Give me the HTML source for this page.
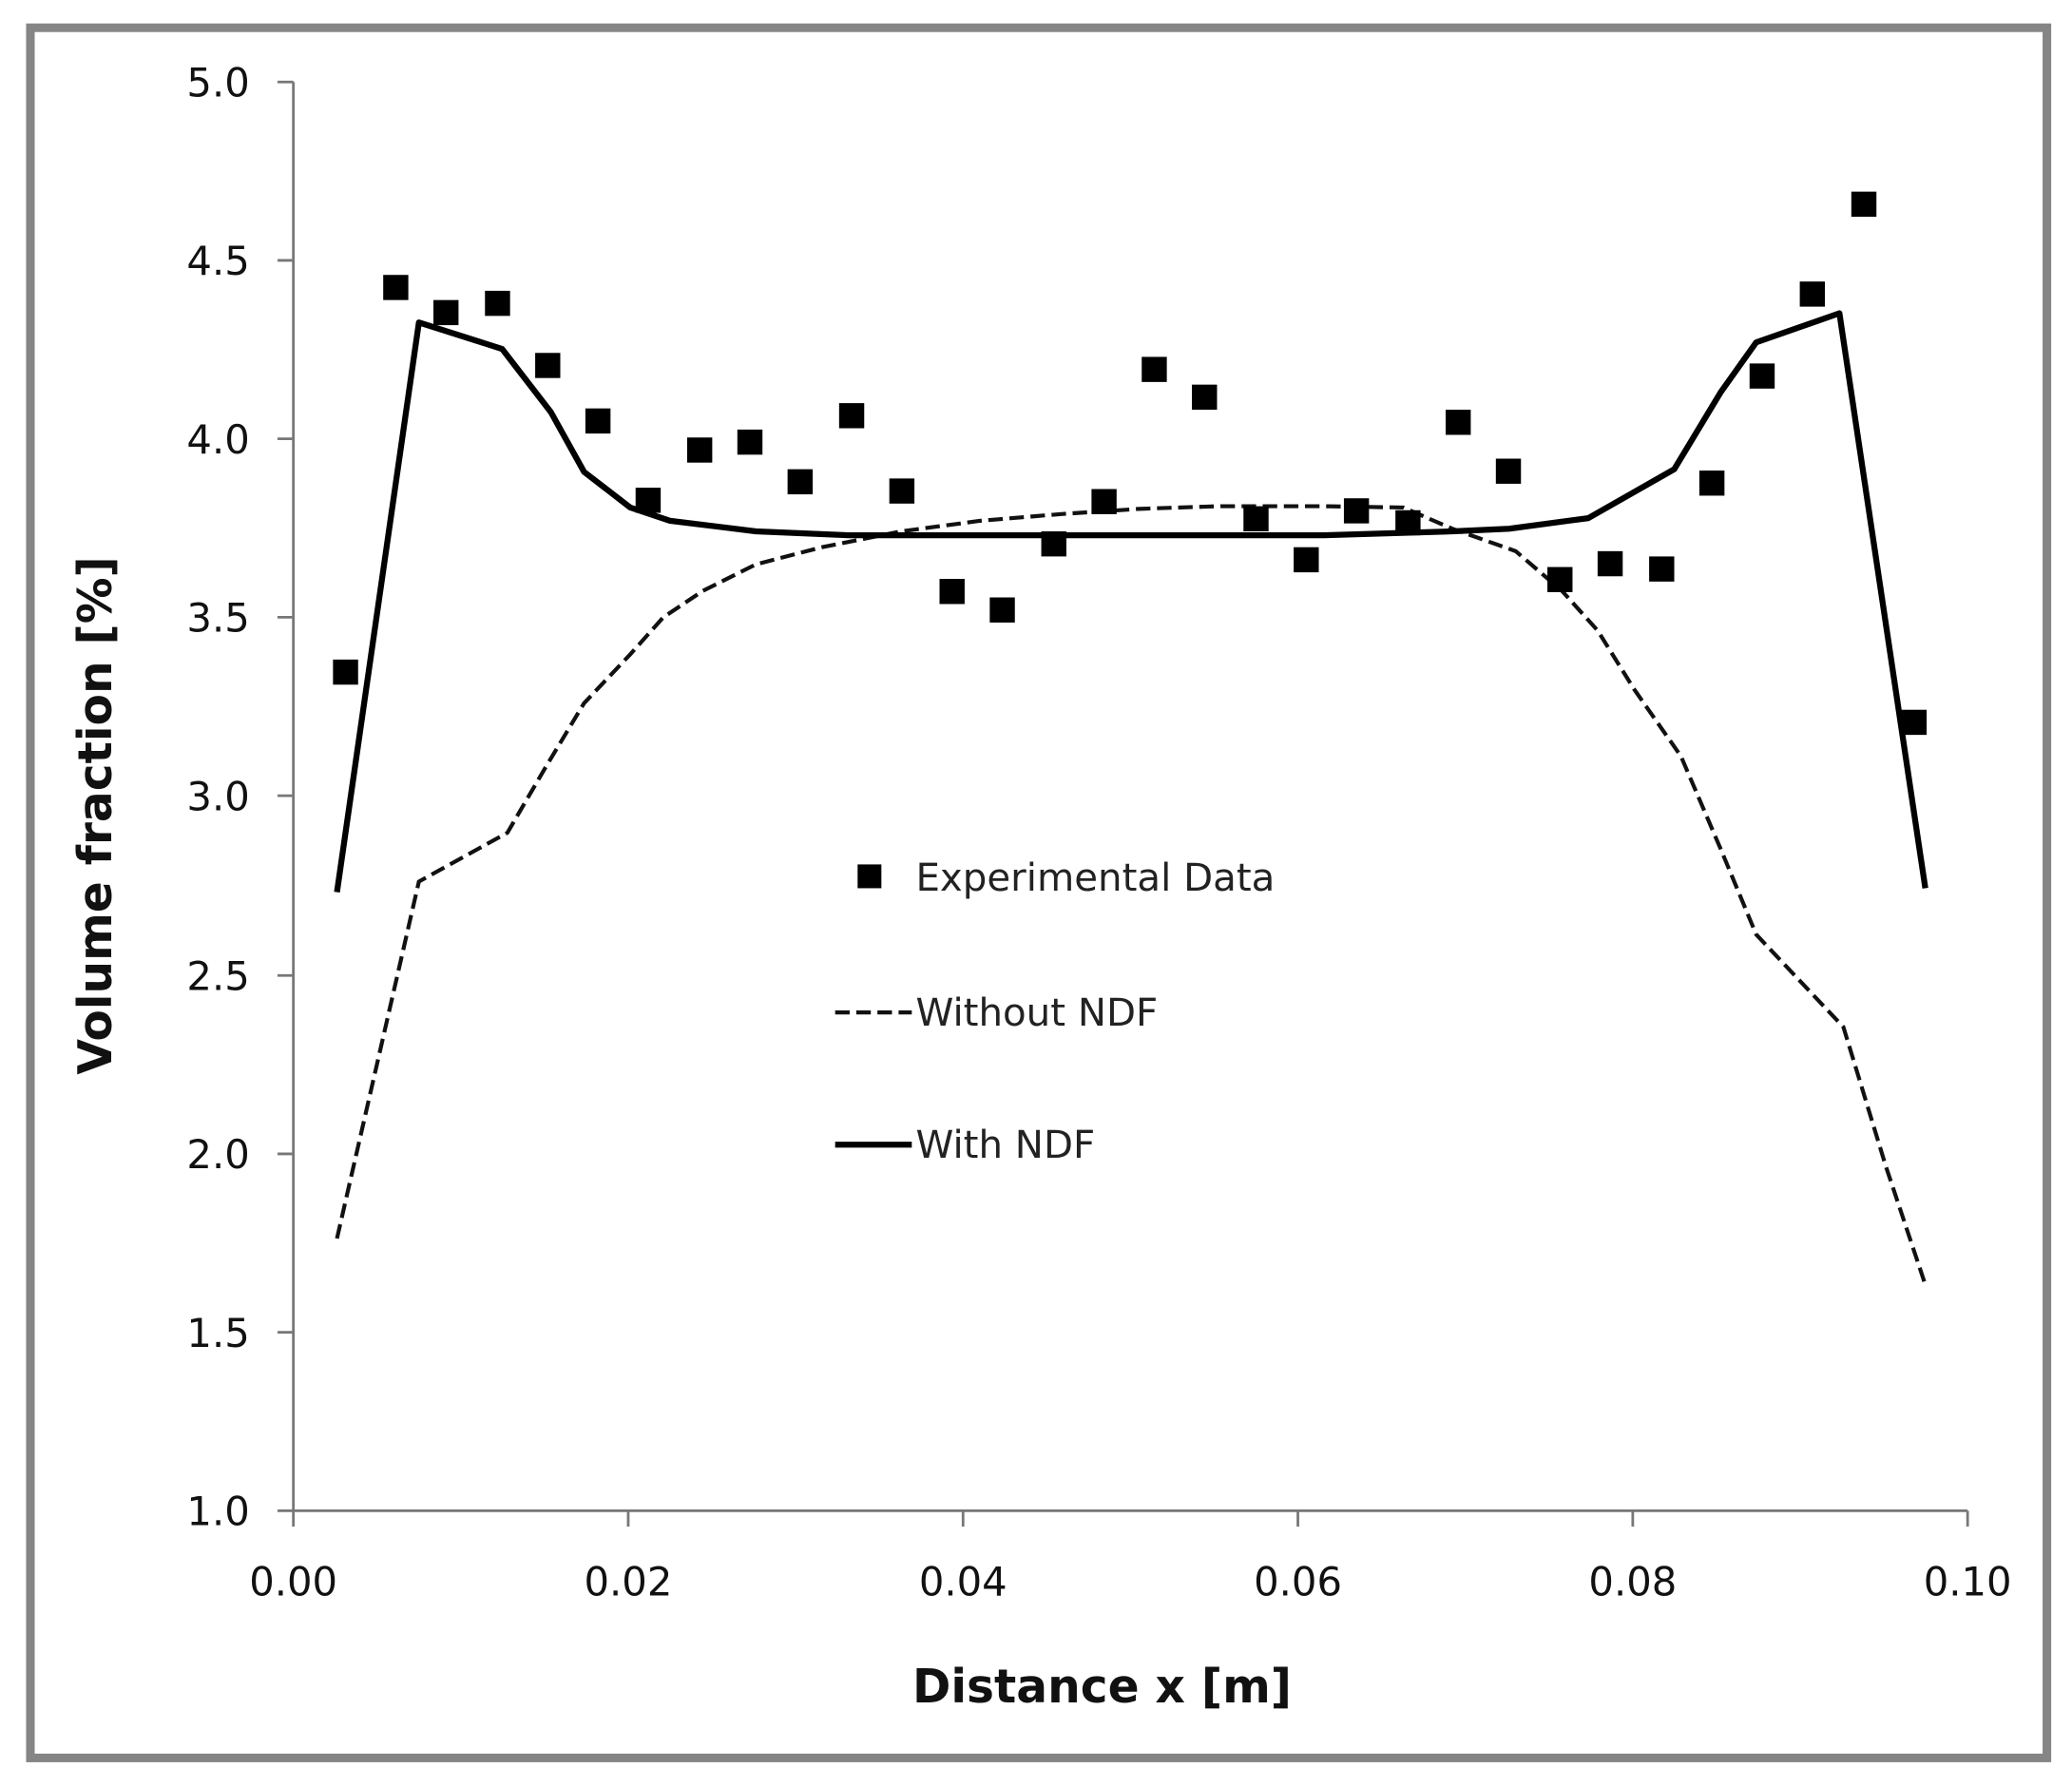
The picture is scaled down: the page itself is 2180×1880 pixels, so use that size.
<!DOCTYPE html>
<html><head><meta charset="utf-8"><style>html,body{margin:0;padding:0;background:#fff}svg{display:block}</style></head>
<body>
<svg width="2180" height="1880" viewBox="-2 -2 1568 1352" preserveAspectRatio="none" xmlns="http://www.w3.org/2000/svg" font-family="'DejaVu Sans','Liberation Sans',sans-serif">
<rect x="21" y="19" width="1526" height="1309" fill="none" stroke="#858585" stroke-width="6.5"/>
<g stroke="#777" stroke-width="2" fill="none">
<line x1="220" y1="60" x2="220" y2="1141"/>
<line x1="220" y1="1141" x2="1487" y2="1141"/>
<line x1="208" y1="60" x2="220" y2="60"/><line x1="208" y1="195" x2="220" y2="195"/><line x1="208" y1="330" x2="220" y2="330"/><line x1="208" y1="465" x2="220" y2="465"/><line x1="208" y1="600" x2="220" y2="600"/><line x1="208" y1="736" x2="220" y2="736"/><line x1="208" y1="871" x2="220" y2="871"/><line x1="208" y1="1006" x2="220" y2="1006"/><line x1="208" y1="1141" x2="220" y2="1141"/>
<line x1="220" y1="1141" x2="220" y2="1153"/><line x1="473.4" y1="1141" x2="473.4" y2="1153"/><line x1="726.8" y1="1141" x2="726.8" y2="1153"/><line x1="980.2" y1="1141" x2="980.2" y2="1153"/><line x1="1233.6" y1="1141" x2="1233.6" y2="1153"/><line x1="1487" y1="1141" x2="1487" y2="1153"/>
</g>
<g font-size="30" fill="#111" text-anchor="end">
<text x="187" y="71">5.0</text><text x="187" y="206">4.5</text><text x="187" y="341">4.0</text><text x="187" y="476">3.5</text><text x="187" y="611">3.0</text><text x="187" y="747">2.5</text><text x="187" y="882">2.0</text><text x="187" y="1017">1.5</text><text x="187" y="1152">1.0</text>
</g>
<g font-size="30" fill="#111" text-anchor="middle">
<text x="220" y="1205">0.00</text><text x="473.4" y="1205">0.02</text><text x="726.8" y="1205">0.04</text><text x="980.2" y="1205">0.06</text><text x="1233.6" y="1205">0.08</text><text x="1487" y="1205">0.10</text>
</g>
<text x="832" y="1286" font-size="35" font-weight="bold" text-anchor="middle" fill="#111">Distance x [m]</text>
<text transform="translate(82,615) rotate(-90)" font-size="35" font-weight="bold" text-anchor="middle" fill="#111">Volume fraction [%]</text>
<polyline fill="none" stroke="#111" stroke-width="3" stroke-dasharray="11,5" points="253,935 315,665 382,628 410,580 440,530 475,493 500,465 530,445 570,425 620,412 680,400 740,392 800,387 860,383 920,381 1000,381 1060,382 1097,398 1145,415 1180,445 1207,475 1235,520 1270,570 1300,640 1327,705 1360,740 1393,775 1425,880 1455,970"/>
<polyline fill="none" stroke="#000" stroke-width="4.5" stroke-linejoin="round" points="253,673 315,242 378,262 415,310 440,355 475,382 505,392 570,400 640,403 700,403 800,403 900,403 1000,403 1097,400 1140,398 1200,390 1265,353 1300,295 1327,257 1390,235 1455,670"/>
<g fill="#000">
<rect x="250" y="497" width="19" height="19"/><rect x="288" y="206" width="19" height="19"/><rect x="326" y="225" width="19" height="19"/><rect x="365" y="218" width="19" height="19"/><rect x="403" y="265" width="19" height="19"/><rect x="441" y="307" width="19" height="19"/><rect x="479" y="367" width="19" height="19"/><rect x="518" y="329" width="19" height="19"/><rect x="556" y="323" width="19" height="19"/><rect x="594" y="353" width="19" height="19"/><rect x="633" y="303" width="19" height="19"/><rect x="671" y="360" width="19" height="19"/><rect x="709" y="436" width="19" height="19"/><rect x="747" y="450" width="19" height="19"/><rect x="786" y="400" width="19" height="19"/><rect x="824" y="368" width="19" height="19"/><rect x="862" y="268" width="19" height="19"/><rect x="900" y="289" width="19" height="19"/><rect x="939" y="381" width="19" height="19"/><rect x="977" y="412" width="19" height="19"/><rect x="1015" y="375" width="19" height="19"/><rect x="1054" y="384" width="19" height="19"/><rect x="1092" y="308" width="19" height="19"/><rect x="1130" y="345" width="19" height="19"/><rect x="1169" y="427" width="19" height="19"/><rect x="1207" y="415" width="19" height="19"/><rect x="1246" y="419" width="19" height="19"/><rect x="1284" y="354" width="19" height="19"/><rect x="1322" y="273" width="19" height="19"/><rect x="1360" y="211" width="19" height="19"/><rect x="1399" y="143" width="19" height="19"/><rect x="1437" y="535" width="19" height="19"/>
<rect x="647" y="652" width="18" height="18"/>
</g>
<line x1="630" y1="764" x2="688" y2="764" stroke="#111" stroke-width="3" stroke-dasharray="11,5"/>
<line x1="630" y1="864" x2="688" y2="864" stroke="#000" stroke-width="4.5"/>
<g font-size="29" fill="#222">
<text x="691" y="672">Experimental Data</text>
<text x="691" y="774">Without NDF</text>
<text x="691" y="874">With NDF</text>
</g>
</svg>
</body></html>
